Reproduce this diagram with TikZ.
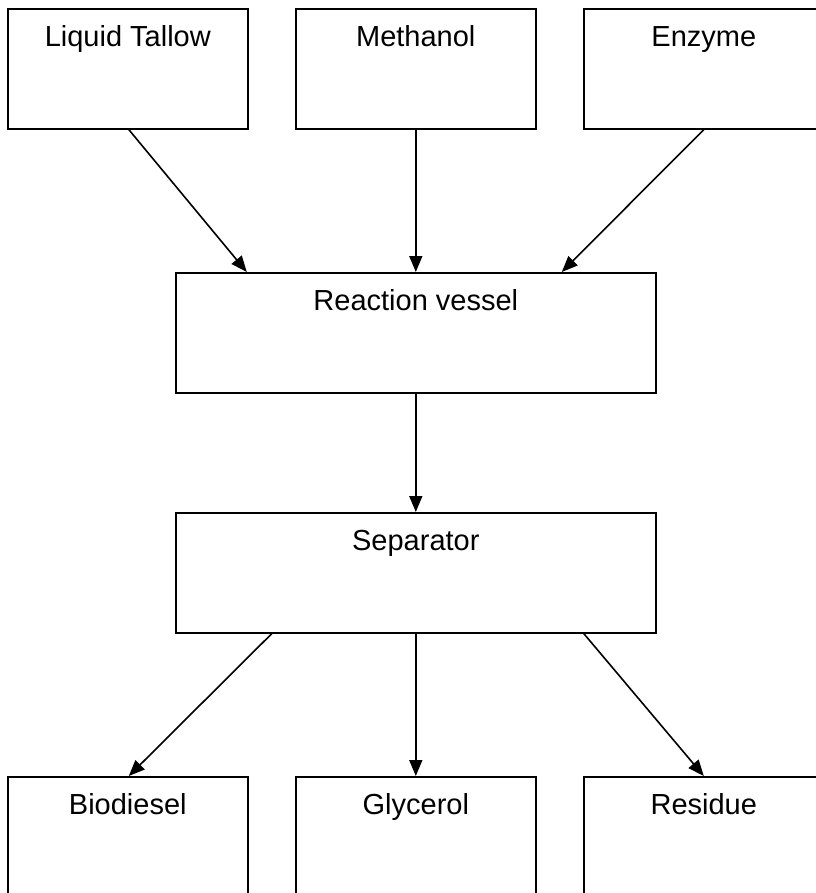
\documentclass[tikz,border=0pt]{standalone}
\usepackage{fontspec}
\setmainfont{Liberation Sans}
\usetikzlibrary{arrows.meta}
\begin{document}
\begin{tikzpicture}[x=1pt,y=-1pt,
  box/.style={draw,line width=1.6pt,anchor=north west,inner sep=0pt,
    minimum width=240pt,minimum height=120pt,text height=38pt,text depth=82pt,
    font=\fontsize{29}{34}\selectfont},
  wbox/.style={box,minimum width=480pt},
  flow/.style={line width=1.6pt,-{Triangle[length=16pt,width=13pt]}}]
\useasboundingbox (0,0) rectangle (815,893);
\node[box] (tallow) at (7,8) {Liquid Tallow};
\node[box] (meth) at (295,8) {Methanol};
\node[box] (enz) at (583,8) {Enzyme};
\node[wbox] (rv) at (175,272) {Reaction vessel};
\node[wbox] (sep) at (175,512) {Separator};
\node[box] (bio) at (7,776) {Biodiesel};
\node[box] (gly) at (295,776) {Glycerol};
\node[box] (res) at (583,776) {Residue};
\draw[flow] ([xshift=1pt]tallow.south) -- ([xshift=-169pt]rv.north);
\draw[flow] (meth.south) -- (rv.north);
\draw[flow] (enz.south) -- ([xshift=146pt]rv.north);
\draw[flow] (rv.south) -- (sep.north);
\draw[flow] ([xshift=-144pt]sep.south) -- ([xshift=1pt]bio.north);
\draw[flow] (sep.south) -- (gly.north);
\draw[flow] ([xshift=168pt]sep.south) -- (res.north);
\end{tikzpicture}
\end{document}
